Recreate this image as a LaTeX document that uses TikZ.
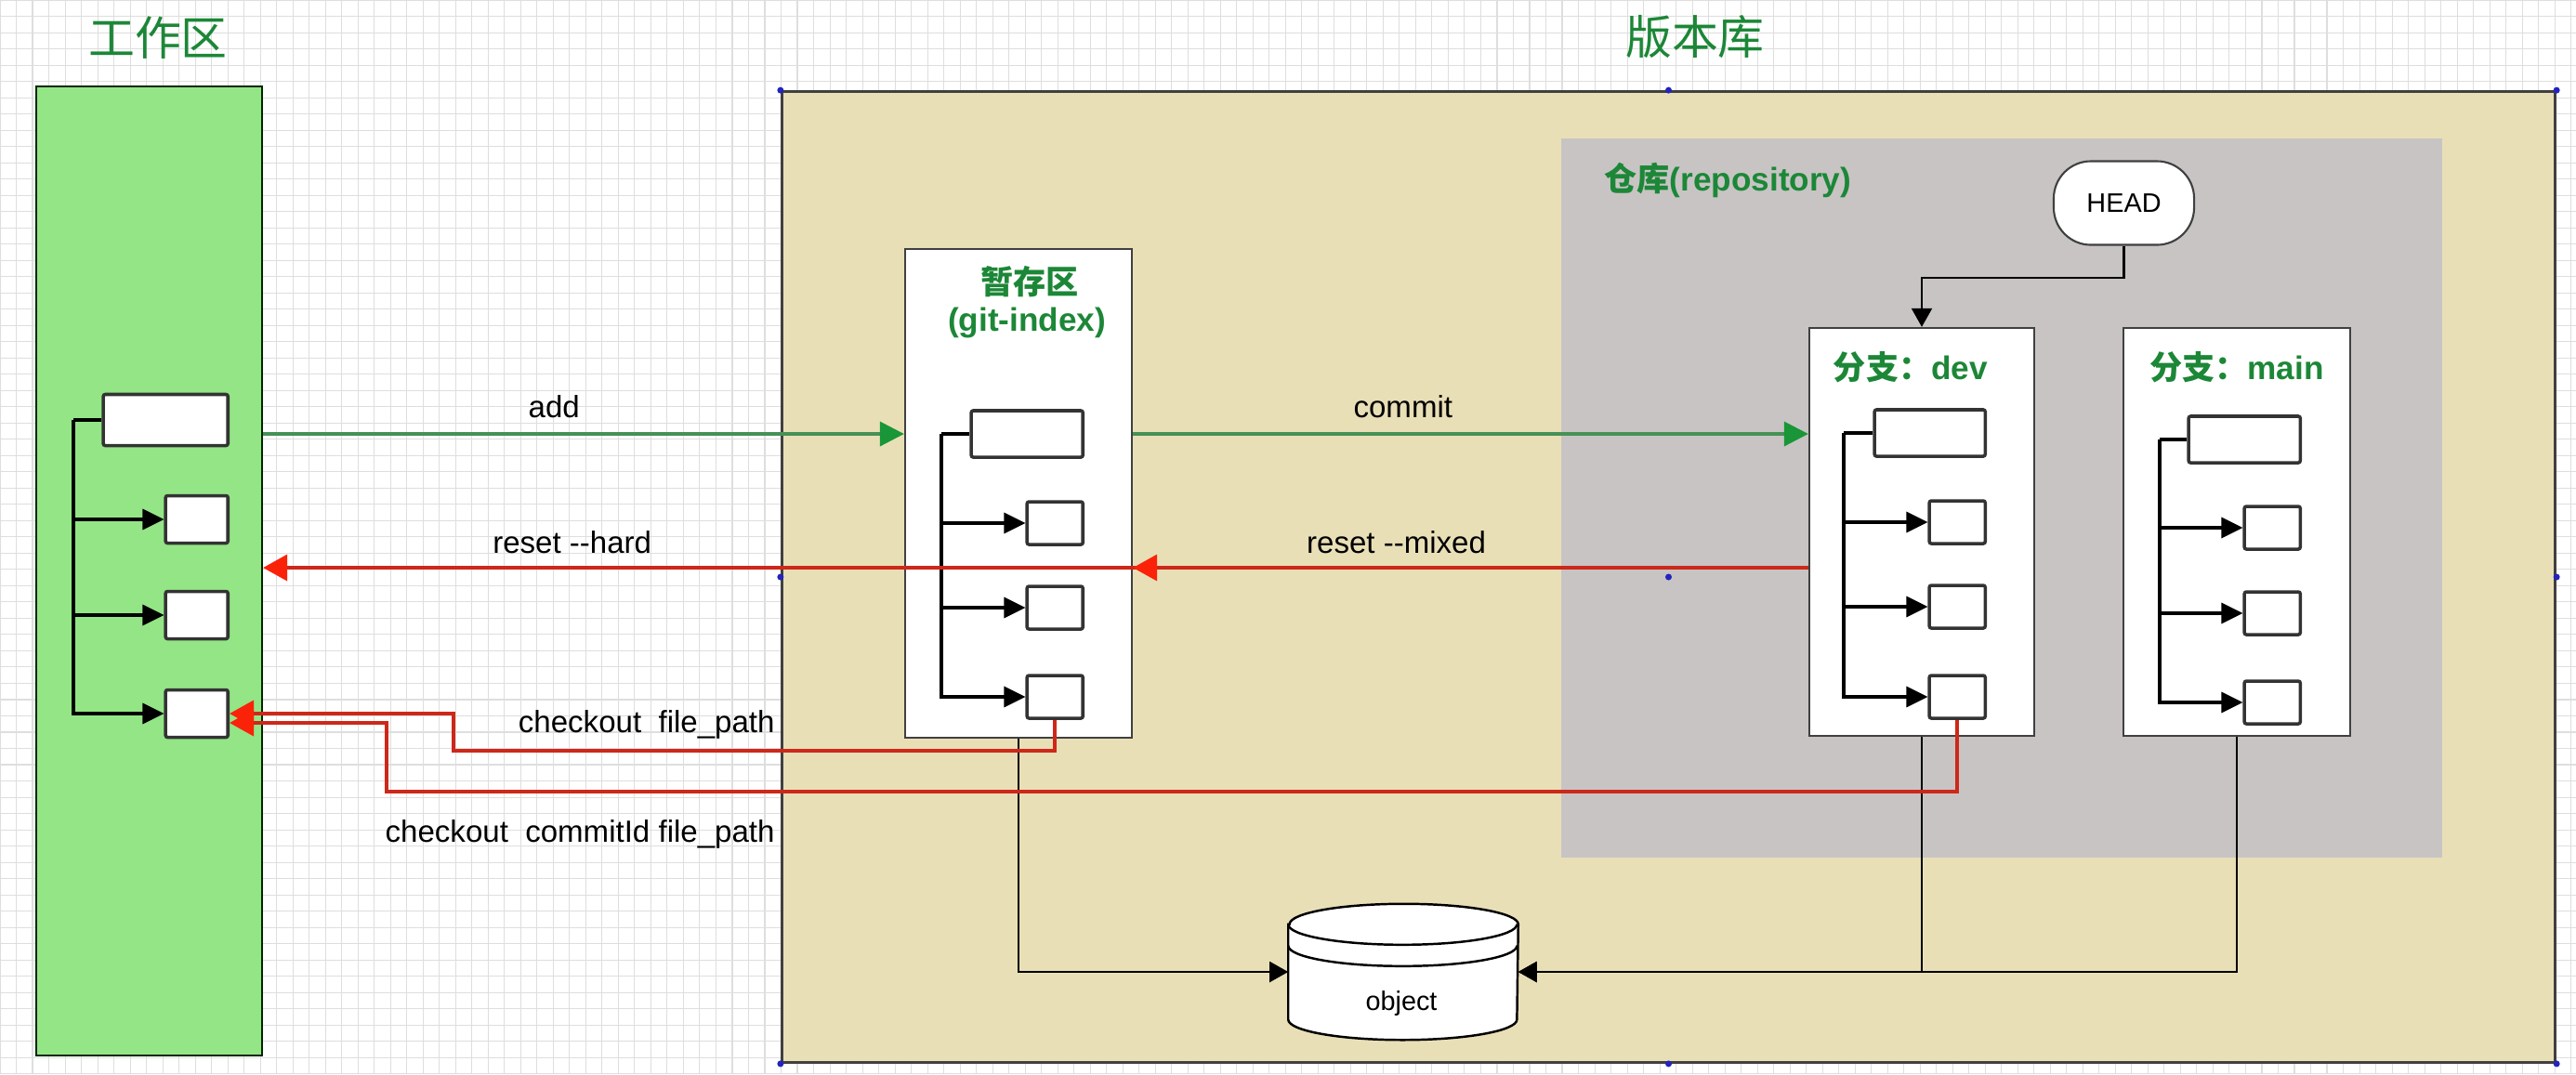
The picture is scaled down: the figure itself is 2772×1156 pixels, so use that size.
\documentclass[tikz,border=0pt]{standalone}
\usepackage{fontspec}
\setmainfont{Liberation Sans}
\newfontfamily\cjk{Noto Sans CJK SC}
\usetikzlibrary{arrows.meta}

\definecolor{wsgreen}{RGB}{147,229,133}
\definecolor{repotan}{RGB}{233,223,183}
\definecolor{repogray}{RGB}{200,196,196}
\definecolor{taggreen}{RGB}{28,135,55}
\definecolor{linegreen}{RGB}{70,145,85}
\definecolor{tipgreen}{RGB}{25,150,55}
\definecolor{linered}{RGB}{205,40,25}
\definecolor{tipred}{RGB}{250,35,10}
\definecolor{handleblue}{RGB}{35,35,190}

\tikzset{
  area/.style={draw=black!75, line width=0.6pt, inner sep=0pt},
  file/.style={draw=black!80, fill=white, line width=1pt, rounded corners=0.6pt, inner sep=0pt},
  trunk/.style={line width=0.9pt},
  greenline/.style={draw=linegreen, line width=1pt, -{Triangle[length=0.26cm,width=0.26cm,color=tipgreen]}},
  redline/.style={draw=linered, line width=1pt, -{Triangle[length=0.26cm,width=0.28cm,color=tipred]}},
  objline/.style={line width=0.6pt, -{Triangle[length=0.2cm,width=0.22cm]}},
  title/.style={text=taggreen, font=\cjk\fontsize{14.2}{17}\selectfont},
  tag/.style={text=taggreen, font=\bfseries\fontsize{10}{12}\selectfont},
  lbl/.style={font=\fontsize{9.4}{11}\selectfont},
  smalltext/.style={font=\fontsize{8.2}{10}\selectfont}
}

\begin{document}
\begin{tikzpicture}[x=0.01cm, y=-0.01cm]
  \useasboundingbox (0,0) rectangle (2772,1156);
  \fill[white] (0,0) rectangle (2772,1156);
  \draw[black!13, line width=0.3pt, step=0.175cm] (0,0) grid (2772,1156);

  % working area and repository
  \node[area, draw=black!85!green, fill=wsgreen, minimum width=2.43cm, minimum height=10.43cm] (ws) at (160.5,614.5) {};
  \node[area, line width=0.9pt, fill=repotan, minimum width=19.07cm, minimum height=10.44cm] (repo) at (1795.5,621) {};
  \node[fill=repogray, inner sep=0pt, minimum width=9.48cm, minimum height=7.74cm] (store) at (2154,536) {};
  \node[title] (wstitle) at (170,41) {工作区};
  \node[title] (repotitle) at (1824,40) {版本库};
  \node[tag, anchor=west] (storetag) at (1714,194) {{\cjk 仓库}(repository)};

  \node[area, fill=white, rounded corners=0.4cm, minimum width=1.51cm, minimum height=0.9cm, smalltext] (head) at (2285.5,218.5) {HEAD};

  % index and branches
  \node[area, fill=white, minimum width=2.44cm, minimum height=5.26cm] (ix) at (1096,531) {};
  \node[area, fill=white, minimum width=2.42cm, minimum height=4.39cm] (dv) at (2068,572.5) {};
  \node[area, fill=white, minimum width=2.44cm, minimum height=4.39cm] (mn) at (2407,572.5) {};
  \node[tag] (ixtag) at (1108,303) {\cjk 暂存区};
  \node[tag] (ixsub) at (1105,347) {(git-index)};
  \node[tag] (dvtag) at (2056,395) {{\cjk 分支：}dev};
  \node[tag] (mntag) at (2407,395) {{\cjk 分支：}main};

  \draw[objline] (head.south) -- ++(0,34) -| (dv.north);

  % file trees
  \foreach \nm/\vx/\rx/\by/\ya/\yb/\yc/\bw/\sw/\bh/\sh in {
      ws/79/247/452/559/662/768/1.34/0.67/0.55/0.51,
      ix/1013/1167/467/563/654/750/1.20/0.60/0.50/0.46,
      dv/1984/2138/466/562/653/750/1.19/0.60/0.50/0.46,
      mn/2324/2477/473/568/660/756/1.20/0.60/0.50/0.46} {
    \node[file, anchor=east, minimum width=\bw cm, minimum height=\bh cm] (\nm-0) at (\rx,\by) {};
    \foreach \i/\y in {1/\ya,2/\yb,3/\yc}
      \node[file, anchor=east, minimum width=\sw cm, minimum height=\sh cm] (\nm-\i) at (\rx,\y) {};
    \coordinate (\nm-t) at (\vx,\by);
    \draw[trunk] (\nm-0.west) -- (\nm-t);
    \draw[trunk, -{Triangle[length=0.23cm,width=0.22cm]}] (\nm-t) |- (\nm-3.west);
    \foreach \i in {1,2}
      \draw[trunk, -{Triangle[length=0.23cm,width=0.22cm]}] (\nm-t |- \nm-\i.west) -- (\nm-\i.west);
  }

  % object store
  \node[inner sep=0pt, minimum width=2.46cm, minimum height=1.45cm] (obj) at (1510,1046) {};
  \filldraw[fill=white, line width=0.7pt] ([yshift=-0.22cm]obj.north west) -- ([yshift=0.22cm]obj.south west)
    arc[start angle=180, end angle=360, x radius=1.23cm, y radius=0.22cm] -- ([yshift=-0.22cm]obj.north east)
    arc[start angle=0, end angle=180, x radius=1.23cm, y radius=0.22cm] -- cycle;
  \draw[line width=0.7pt] ([yshift=-0.22cm]obj.north west) arc[start angle=180, end angle=360, x radius=1.23cm, y radius=0.22cm];
  \draw[line width=0.7pt] ([yshift=-0.45cm]obj.north west) arc[start angle=180, end angle=360, x radius=1.23cm, y radius=0.22cm];
  \node[smalltext] (objtag) at (1508,1080) {object};

  \draw[objline] (ix.south) |- (obj.west);
  \draw[objline] (dv.south) |- (obj.east);
  \draw[objline] (mn.south) |- (obj.east);

  % commands
  \coordinate (rs) at (0,611);
  \coordinate (cf) at (488,808);
  \coordinate (cc) at (416,852);
  \draw[greenline] (ws.east |- ix-0.west) -- node[lbl, above=1pt, pos=0.454, text=black] {add} (ix.west |- ix-0.west);
  \draw[greenline] (ix.east |- ix-0.west) -- node[lbl, above=1pt, pos=0.40, text=black] {commit} (dv.west |- ix-0.west);
  \draw[redline] (dv.west |- rs) -- node[lbl, above=0.6pt, pos=0.80, text=black] {reset -{}-hard} (ws.east |- rs);
  \draw[redline] (dv.west |- rs) -- node[lbl, above=0.6pt, pos=0.61, text=black] {reset -{}-mixed} (ix.east |- rs);
  \draw[redline] (ix-3.south) |- (cf) |- (ws-3.east);
  \draw[redline] (dv-3.south) |- (cc) |- ([yshift=-0.1cm]ws-3.east);
  \node[lbl, anchor=east] (cftag) at (846,780) {checkout\ \ file\_path};
  \node[lbl, anchor=east] (cctag) at (846,898) {checkout\ \ commitId file\_path};

  \foreach \a in {north west,north,north east,west,center,east,south west,south,south east}
    \fill[handleblue] (repo.\a) circle (0.035cm);
\end{tikzpicture}
\end{document}
